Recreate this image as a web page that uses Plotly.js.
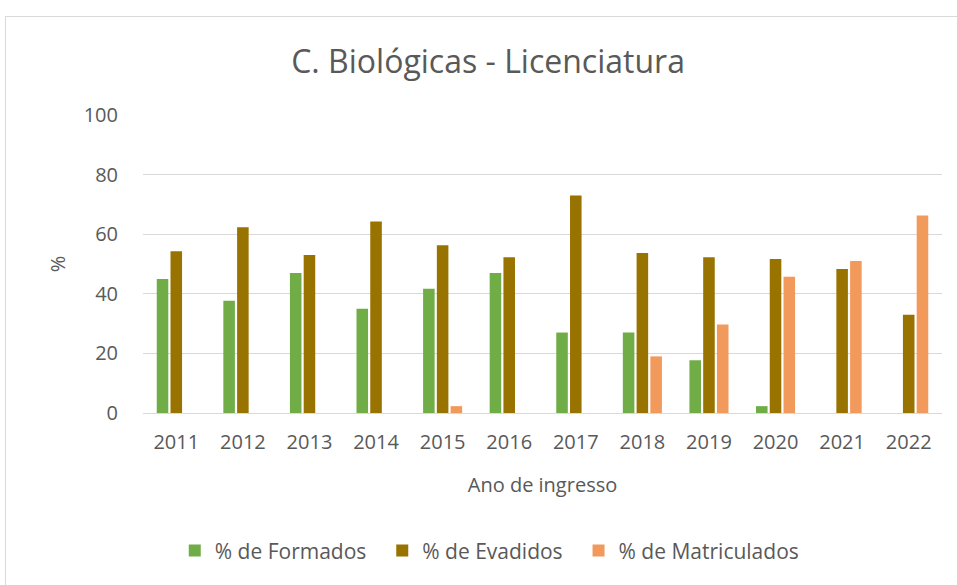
<!DOCTYPE html>
<html>
<head>
<meta charset="utf-8">
<script src="https://cdn.plot.ly/plotly-3.0.1.min.js"></script>
<style>
  html, body { margin: 0; padding: 0; background: #fff; }
  #frame { position: absolute; left: 5px; top: 16px; width: 1000px; height: 600px; border: 1px solid #d9d9d9; box-sizing: border-box; }
  #chart { position: absolute; left: 0; top: 0; width: 957px; height: 585px; }
</style>
</head>
<body>
<div id="frame"></div>
<div id="chart"></div>
<script>
const anos = ["2011","2012","2013","2014","2015","2016","2017","2018","2019","2020","2021","2022"];
const formados = [45.0, 37.7, 47.0, 35.0, 41.7, 47.0, 27.0, 27.0, 17.7, 2.3, null, null];
const evadidos = [54.3, 62.3, 53.0, 64.3, 56.3, 52.3, 73.0, 53.7, 52.3, 51.7, 48.3, 33.0];
const matriculados = [null, null, null, null, 2.3, null, null, 19.0, 29.7, 45.7, 51.0, 66.3];
const nomes = ["% de Formados", "% de Evadidos", "% de Matriculados"];

const font = "'Open Sans', sans-serif";
const gray = "#595959";
const pad = "\u00a0\u00a0";

const traces = [
  {type: "bar", name: nomes[0] + pad, x: anos, y: formados, marker: {color: "#70AD47"}},
  {type: "bar", name: nomes[1] + pad, x: anos, y: evadidos, marker: {color: "#997300"}},
  {type: "bar", name: nomes[2], x: anos, y: matriculados, marker: {color: "#F2995C"}}
];

const layout = {
  width: 957, height: 585,
  paper_bgcolor: "rgba(0,0,0,0)", plot_bgcolor: "rgba(0,0,0,0)",
  margin: {l: 143, r: 15, t: 115, b: 172},
  font: {family: font, color: gray, size: 18},
  title: {text: "C. Biológicas - Licenciatura", font: {family: font, size: 32, color: gray}, x: 0.51, xanchor: "center", y: 0.895, yanchor: "middle"},
  barmode: "group", bargap: 0.38, bargroupgap: 0.16,
  showlegend: true,
  legend: {orientation: "h", x: 0.434, xanchor: "center", y: -0.463, yanchor: "middle", font: {family: font, size: 21, color: gray}},
  xaxis: {
    type: "category",
    title: {text: "Ano de ingresso", font: {family: font, size: 20, color: gray}, standoff: 23},
    tickfont: {family: font, size: 20, color: gray},
    showline: true, linecolor: "#d9d9d9", linewidth: 1,
    ticks: "", ticklabelstandoff: 11, showgrid: false
  },
  yaxis: {
    range: [0, 100], dtick: 20, tick0: 0,
    title: {text: "%", font: {family: font, size: 20, color: gray}, standoff: 12},
    tickfont: {family: font, size: 20, color: gray},
    gridcolor: "#d9d9d9", gridwidth: 1, zeroline: false,
    ticks: "", ticklabelstandoff: 24
  }
};

Plotly.newPlot("chart", traces, layout, {displayModeBar: false, staticPlot: true});
</script>
</body>
</html>
